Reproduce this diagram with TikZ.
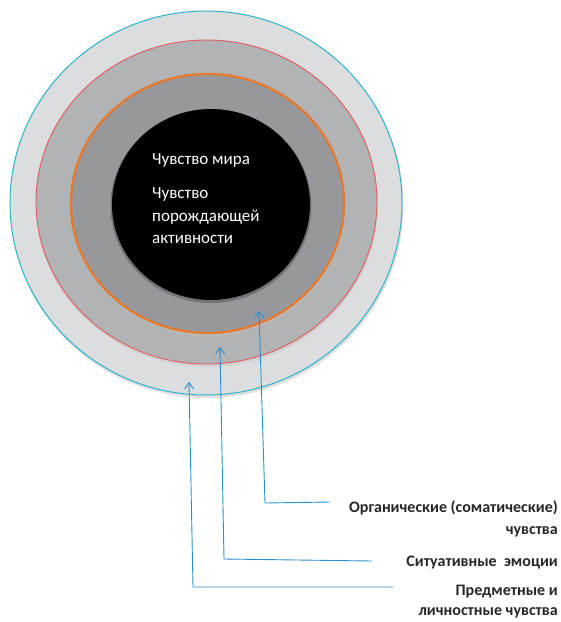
\documentclass[tikz,border=0pt]{standalone}
\usepackage{fontspec}
\setmainfont{Carlito}
\usetikzlibrary{arrows.meta}
\definecolor{ringA}{HTML}{DCDDDF}
\definecolor{ringB}{HTML}{B2B3B5}
\definecolor{ringC}{HTML}{97989B}
\definecolor{lineA}{HTML}{2BB3C9}
\definecolor{lineB}{HTML}{E35A5A}
\definecolor{lineC}{HTML}{E27A32}
\definecolor{conn}{HTML}{2A8FD0}
\definecolor{labtext}{HTML}{262626}
\tikzset{
  connector/.style={draw=conn, line width=0.9pt, -{Straight Barb[length=6pt,width=9pt,line width=0.9pt]}},
  label/.style={font=\bfseries\fontsize{16}{21.5}\selectfont, text=labtext, align=right, anchor=east, inner sep=0pt},
  inner/.style={font=\fontsize{17}{22.5}\selectfont, text=white, align=left, anchor=west, inner sep=0pt},
}
\begin{document}
\begin{tikzpicture}[x=1pt,y=-1pt]
\useasboundingbox (0,0) rectangle (561,622);
% shadows
\fill[black!12] (207,205.5) ellipse [x radius=196.5, y radius=192.5];
\fill[ringA, draw=lineA, line width=1pt] (206,203) ellipse [x radius=196, y radius=192];
\fill[black!18] (207,204.5) ellipse [x radius=171, y radius=162.5];
\fill[ringB, draw=lineB, line width=0.9pt] (206.5,202) ellipse [x radius=170.5, y radius=162];
\fill[black!25] (208,205.5) ellipse [x radius=137, y radius=130];
\fill[ringC, draw=lineC, line width=2.4pt] (207.5,203.5) ellipse [x radius=136.5, y radius=129.5];
\fill[black!55] (211,206) ellipse [x radius=100.5, y radius=97];
\fill[black] (211,204.5) ellipse [x radius=99, y radius=95.5];
% inner texts
\node[inner] (t1) at (152,160) {Чувство мира};
\node[inner] (t2) at (152,216) {Чувство\\порождающей\\активности};
% labels
\node[label] (l1) at (558,519) {Органические (соматические)\\чувства};
\node[label] (l2) at (558,563) {Ситуативные\ \ эмоции};
\node[label, font=\bfseries\fontsize{16}{20}\selectfont] (l3) at (558,601.5) {Предметные и\\личностные чувства};
% connector coordinates
\coordinate (e1) at (330,502);
\coordinate (k1) at (265,503);
\coordinate (a1) at (259,311);
\coordinate (e2) at (372,561);
\coordinate (k2) at (224,559);
\coordinate (a2) at (220,347);
\coordinate (e3) at (393,587);
\coordinate (k3) at (193,587);
\coordinate (a3) at (189,382);
\draw[connector] (e1) -- (k1) -- (a1);
\draw[connector] (e2) -- (k2) -- (a2);
\draw[connector] (e3) -- (k3) -- (a3);
\end{tikzpicture}
\end{document}
